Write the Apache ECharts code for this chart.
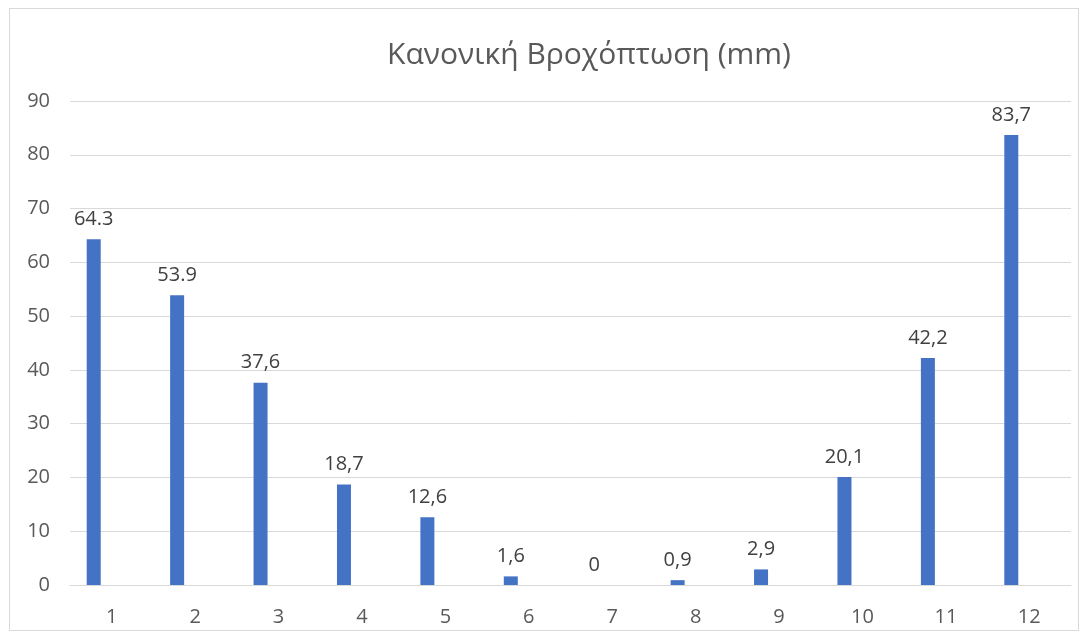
<!DOCTYPE html>
<html><head><meta charset="utf-8">
<script src="https://cdn.jsdelivr.net/npm/echarts@6/dist/echarts.min.js"></script>
<style>
html,body{margin:0;padding:0;background:#fff;}
#frame{position:absolute;left:9px;top:8px;width:1070px;height:623px;border:1px solid #d9d9d9;box-sizing:border-box;}
#c{position:absolute;left:0;top:0;width:1086px;height:639px;}
</style></head>
<body>
<div id="frame"></div>
<div id="c"></div>
<script>
const months = ['1','2','3','4','5','6','7','8','9','10','11','12'];
const rainfall = [64.3, 53.9, 37.6, 18.7, 12.6, 1.6, 0, 0.9, 2.9, 20.1, 42.2, 83.7];
const rainfallLabels = ['64.3','53.9','37,6','18,7','12,6','1,6','0','0,9','2,9','20,1','42,2','83,7'];
const emptySeries = [null,null,null,null,null,null,null,null,null,null,null,null];

const chart = echarts.init(document.getElementById('c'), null, {renderer:'canvas'});
const font = '"Open Sans", "Noto Sans", sans-serif';
chart.setOption({
  animation:false,
  textStyle:{fontFamily:font},
  title:{text:'Κανονική Βροχόπτωση (mm)', left:584, top:35, textAlign:'center',
    textStyle:{fontFamily:font, fontSize:30, fontWeight:'normal', color:'#595959'}},
  grid:{left:70, right:15, top:101, bottom:54},
  xAxis:{type:'category', data:months,
    axisLine:{show:true, lineStyle:{color:'#d9d9d9'}},
    axisTick:{show:false},
    axisLabel:{color:'#595959', fontSize:20, margin:22, fontFamily:font}},
  yAxis:{type:'value', min:0, max:90, interval:10,
    axisLine:{show:false}, axisTick:{show:false},
    splitLine:{lineStyle:{color:'#d9d9d9', width:1}},
    axisLabel:{color:'#595959', fontSize:20, margin:20, fontFamily:font}},
  series:[
    {type:'bar', data:rainfall, barWidth:14, barGap:'157%',
     itemStyle:{color:'#4472C4'},
     label:{show:true, position:'top', distance:10, color:'#404040', fontSize:20, fontFamily:font,
       formatter:p=>rainfallLabels[p.dataIndex]}},
    {type:'bar', data:emptySeries, barWidth:14}
  ]
});
</script>
</body></html>
